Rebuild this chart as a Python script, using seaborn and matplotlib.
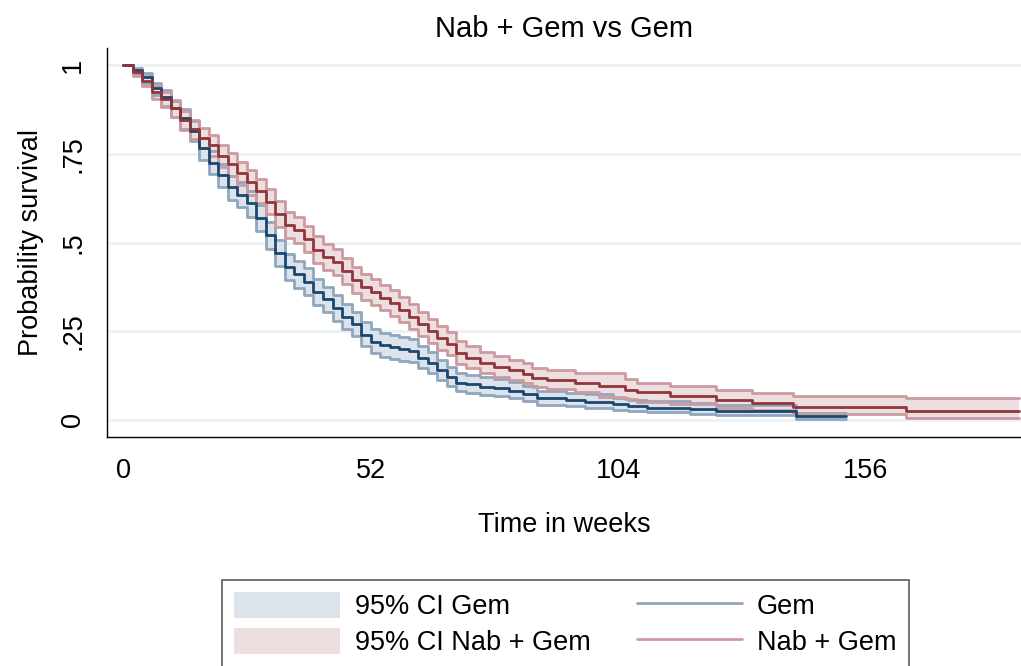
import matplotlib
matplotlib.use("Agg")
import matplotlib.pyplot as plt
import seaborn as sns
import pandas as pd
from matplotlib.patches import Patch
from matplotlib.lines import Line2D

# ---- data ----
gem_t = [0, 2, 4, 6, 8, 10, 12, 14, 16, 18, 20, 22, 24, 26, 28, 30, 32, 34, 36, 38,
         40, 42, 44, 46, 48, 50, 52, 54, 56, 58, 60, 62, 64, 66, 68, 70, 72, 75, 78,
         81, 84, 87, 93, 97, 103, 106.2, 110, 119.1, 124.7, 141.5, 151.9]
gem_s = [1.0, .985, .965, .935, .91, .88, .85, .815, .765, .725, .69, .655, .635, .61,
         .57, .52, .47, .43, .41, .39, .36, .34, .315, .29, .27, .24, .22, .21, .205,
         .20, .195, .175, .16, .14, .12, .105, .10, .094, .09, .082, .073, .061, .056,
         .052, .044, .039, .035, .031, .025, .011, .011]
gem_lo = [1.0, .975, .95, .915, .885, .855, .82, .785, .733, .692, .655, .62, .60, .573,
          .533, .483, .433, .393, .373, .353, .324, .304, .28, .256, .236, .207, .188,
          .177, .172, .167, .163, .145, .131, .113, .095, .082, .077, .071, .068, .061,
          .053, .043, .039, .035, .029, .024, .022, .018, .013, .002, .002]
gem_hi = [1.0, .993, .977, .95, .93, .90, .875, .842, .795, .757, .722, .688, .67, .645,
          .606, .557, .507, .467, .447, .427, .397, .376, .351, .326, .305, .275, .255,
          .244, .238, .233, .228, .207, .191, .17, .149, .133, .127, .12, .116, .107,
          .097, .083, .077, .072, .063, .057, .054, .048, .042, .02, .02]

nab_t = [0, 2, 4, 6, 8, 10, 12, 14, 16, 18, 20, 22, 24, 26, 28, 30, 32, 34, 36, 38,
         40, 42, 44, 46, 48, 50, 52, 54, 56, 58, 60, 62, 64, 66, 68, 70, 72, 75, 78,
         81, 84, 86, 89, 95, 100, 105.5, 108, 115, 124.7, 132.1, 140.8, 164.6, 188.3]
nab_s = [1.0, .98, .955, .925, .905, .88, .845, .82, .795, .775, .745, .72, .695, .67,
         .645, .615, .58, .55, .535, .51, .48, .46, .445, .42, .395, .375, .36, .345,
         .33, .31, .29, .27, .25, .23, .215, .19, .175, .16, .15, .14, .13, .118, .113,
         .103, .097, .085, .078, .068, .056, .047, .036, .025, .025]
nab_lo = [1.0, .968, .94, .905, .883, .855, .818, .791, .765, .744, .713, .687, .661,
          .635, .61, .579, .544, .513, .498, .473, .443, .423, .408, .383, .358, .339,
          .324, .309, .294, .275, .255, .236, .216, .197, .183, .159, .145, .131, .121,
          .112, .103, .092, .088, .078, .066, .058, .052, .045, .035, .027, .017, .006,
          .006]
nab_hi = [1.0, .99, .968, .942, .925, .902, .87, .846, .823, .804, .776, .752, .728,
          .704, .68, .65, .616, .586, .571, .547, .517, .497, .482, .457, .432, .412,
          .397, .381, .366, .346, .326, .305, .285, .264, .249, .223, .207, .192, .181,
          .17, .16, .147, .142, .131, .133, .115, .105, .097, .085, .075, .068, .061,
          .061]

y_ticks = [0, 0.25, 0.5, 0.75, 1]
y_labels = ["0", ".25", ".5", ".75", "1"]
x_ticks = [0, 52, 104, 156]
x_labels = ["0", "52", "104", "156"]

# ---- styling ----
sns.set_theme(style="white")
plt.rcParams["font.family"] = ["Liberation Sans", "DejaVu Sans"]
plt.rcParams["text.color"] = "#000000"

navy = "#1a476f"
maroon = "#90353b"
gem_fill, gem_edge = "#dce3eb", "#8ea7be"
nab_fill, nab_edge = "#eddfe0", "#cc9a9f"

fig = plt.figure(figsize=(10.21, 6.66), dpi=100)
ax = fig.add_axes([107 / 1021, 1 - 437 / 666, 1 - 107 / 1021, (437 - 48) / 666])

# horizontal grid
for yv in y_ticks:
    ax.axhline(yv, color="#e9f1f2", lw=1.8, zorder=0)

gem = pd.DataFrame({"t": gem_t, "s": gem_s, "lo": gem_lo, "hi": gem_hi})
nab = pd.DataFrame({"t": nab_t, "s": nab_s, "lo": nab_lo, "hi": nab_hi})

lw = 2.0
for df, fill, edge in [(gem, gem_fill, gem_edge), (nab, nab_fill, nab_edge)]:
    ax.fill_between(df["t"], df["lo"], df["hi"], step="post", color=fill, lw=0, zorder=1)
    sns.lineplot(data=df, x="t", y="lo", ax=ax, color=edge, lw=lw, drawstyle="steps-post",
                 estimator=None, sort=False, zorder=2)
    sns.lineplot(data=df, x="t", y="hi", ax=ax, color=edge, lw=lw, drawstyle="steps-post",
                 estimator=None, sort=False, zorder=2)

sns.lineplot(data=gem, x="t", y="s", ax=ax, color=navy, lw=lw, drawstyle="steps-post",
             estimator=None, sort=False, zorder=3)
sns.lineplot(data=nab, x="t", y="s", ax=ax, color=maroon, lw=lw, drawstyle="steps-post",
             estimator=None, sort=False, zorder=3)

ax.set_xlim(-3.4, 188.7)
ax.set_ylim(-0.048, 1.048)
ax.set_xticks(x_ticks)
ax.set_xticklabels(x_labels)
ax.set_yticks(y_ticks)
ax.set_yticklabels(y_labels, rotation=90, va="center")

for sp in ["top", "right"]:
    ax.spines[sp].set_visible(False)
for sp in ["left", "bottom"]:
    ax.spines[sp].set_color("#000000")
    ax.spines[sp].set_linewidth(1.0)

ax.tick_params(axis="both", direction="out", length=7, width=1.0, color="#000000",
               labelsize=19.5, labelcolor="#000000")
ax.tick_params(axis="x", pad=8)
ax.tick_params(axis="y", pad=8)

ax.set_xlabel("Time in weeks", fontsize=19.5, labelpad=20, color="#000000")
ax.set_ylabel("Probability survival", fontsize=19.5, labelpad=12, color="#000000")
ax.set_title("Nab + Gem vs Gem", fontsize=21, pad=8, color="#000000")

handles = [Patch(facecolor=gem_fill, edgecolor="none"),
           Patch(facecolor=nab_fill, edgecolor="none"),
           Line2D([], [], color=gem_edge, lw=2),
           Line2D([], [], color=nab_edge, lw=2)]
labels = ["95% CI Gem", "95% CI Nab + Gem", "Gem", "Nab + Gem"]
leg = fig.legend(handles, labels, loc="upper left", bbox_to_anchor=(222 / 1021, 1 - 580 / 666),
                 ncol=2, fontsize=19.5, frameon=True, fancybox=False,
                 handlelength=3.9, handleheight=1.1, handletextpad=0.55,
                 columnspacing=1.7, labelspacing=0.28, borderpad=0.45, borderaxespad=0,
                 labelcolor="#000000")
leg.get_frame().set_edgecolor("#333333")
leg.get_frame().set_linewidth(1.2)

fig.savefig("out.png", dpi=100)
